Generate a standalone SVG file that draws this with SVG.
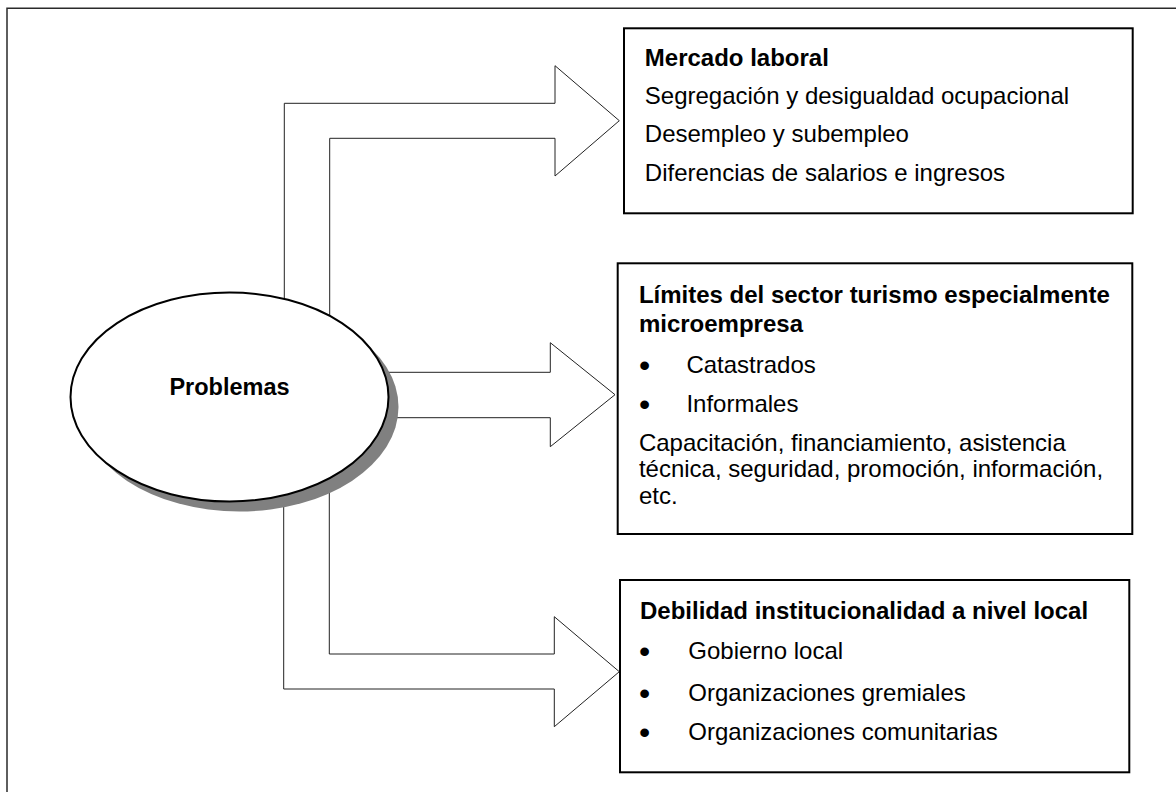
<svg xmlns="http://www.w3.org/2000/svg" width="1176" height="792" viewBox="0 0 1176 792">
<style>
.frame{fill:none;stroke:#2a2a2a;stroke-width:1.5}
.arrow{fill:#fff;stroke:#222;stroke-width:1}
.box{fill:#fff;stroke:#000;stroke-width:2}
.t{font-family:"Liberation Sans",Arial,sans-serif;font-size:24px;fill:#000}
.b{font-weight:bold}
.bul{font-family:"Liberation Sans",Arial,sans-serif;font-size:32px;fill:#000}
</style>
<rect width="1176" height="792" fill="#fff"/>
<path class="frame" d="M7,792 L7,8.3 L1176,8.3"/>
<g id="connectors">
<path class="arrow" d="M284.3,340 L284.3,103.3 L555,103.3 L555,65.7 L619.3,120.7 L555,176 L555,138.3 L329.7,138.3 L329.7,340 Z"/>
<path class="arrow" d="M370,372.3 L550.3,372.3 L550.3,342.7 L615,394.7 L550.3,446.7 L550.3,417.7 L370,417.7 Z"/>
<path class="arrow" d="M329.3,450 L329.3,654 L554.3,654 L554.3,616.7 L619.3,671.7 L554.3,726.7 L554.3,689 L283.7,689 L283.7,450 Z"/>
</g>
<g id="problemas">
<ellipse cx="239.5" cy="407" rx="159" ry="104.5" fill="#808080"/>
<ellipse cx="229.5" cy="397" rx="159" ry="104.5" fill="#fff" stroke="#000" stroke-width="2"/>
<text class="t b" x="229.5" y="395" text-anchor="middle" style="font-size:23.5px">Problemas</text>
</g>
<g id="mercado">
<rect class="box" x="624" y="28.3" width="508.7" height="185"/>
<text class="t b" x="644.8" y="66">Mercado laboral</text>
<text class="t" x="644.8" y="104">Segregación y desigualdad ocupacional</text>
<text class="t" x="644.8" y="142.3">Desempleo y subempleo</text>
<text class="t" x="644.8" y="180.7">Diferencias de salarios e ingresos</text>
</g>
<g id="limites">
<rect class="box" x="617.7" y="263.3" width="514.6" height="270.7"/>
<text class="t b" x="638.9" y="302.7">Límites del sector turismo especialmente</text>
<text class="t b" x="638.9" y="331.7">microempresa</text>
<text class="bul" x="639" y="375.7">•</text>
<text class="t" x="686.4" y="372.7">Catastrados</text>
<text class="bul" x="639" y="415.3">•</text>
<text class="t" x="686.4" y="412.3">Informales</text>
<text class="t" x="638.9" y="450.7">Capacitación, financiamiento, asistencia</text>
<text class="t" x="638.9" y="476.7">técnica, seguridad, promoción, información,</text>
<text class="t" x="638.9" y="504">etc.</text>
</g>
<g id="debilidad">
<rect class="box" x="620" y="580" width="509.3" height="192.3"/>
<text class="t b" x="640" y="619">Debilidad institucionalidad a nivel local</text>
<text class="bul" x="639" y="662">•</text>
<text class="t" x="688.3" y="659">Gobierno local</text>
<text class="bul" x="639" y="703.7">•</text>
<text class="t" x="688.3" y="700.7">Organizaciones gremiales</text>
<text class="bul" x="639" y="743">•</text>
<text class="t" x="688.3" y="740">Organizaciones comunitarias</text>
</g>
</svg>
